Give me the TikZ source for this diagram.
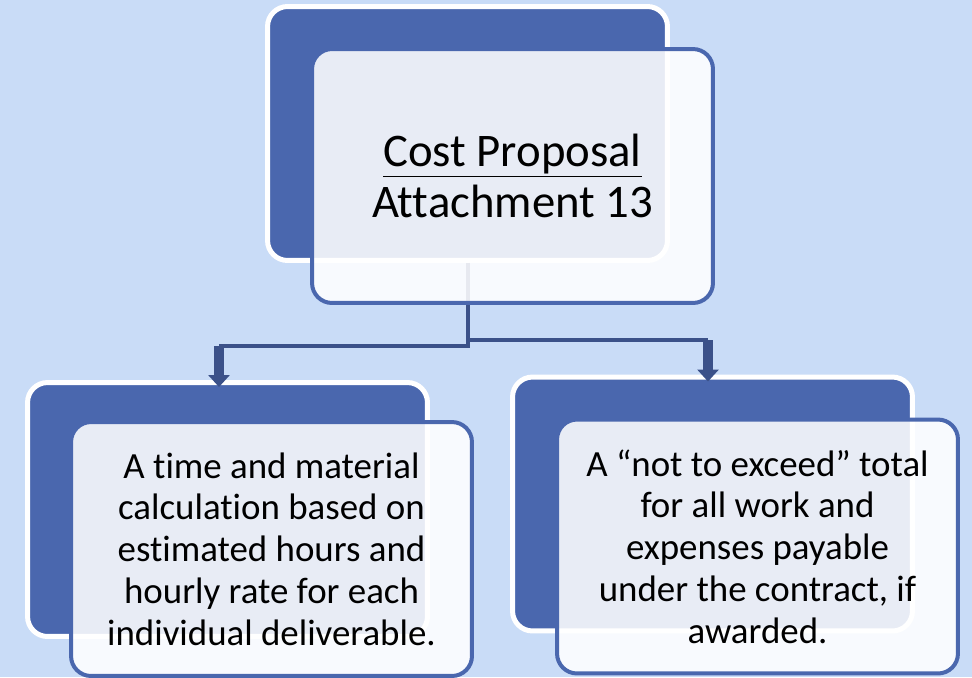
\documentclass[tikz,border=0pt]{standalone}
\usepackage{fontspec}
\setmainfont{Carlito}[Ligatures={NoCommon}]
\usetikzlibrary{calc, arrows.meta}
\definecolor{pagebg}{HTML}{C9DCF7}
\definecolor{boxblue}{HTML}{4A67AE}
\definecolor{linkblue}{HTML}{3B5189}
\tikzset{
    x=0.02cm, y=-0.02cm,
    backbox/.style={rectangle, rounded corners=0.4cm, fill=boxblue, draw=white,
        line width=0.1cm, minimum width=8cm, minimum height=5.08cm},
    frontbox/.style={rectangle, rounded corners=0.4cm, fill=white, fill opacity=0.88,
        text opacity=1, draw=boxblue, draw opacity=1, line width=0.08cm,
        minimum width=8.02cm, minimum height=5.08cm, align=center,
        font=\fontsize{21}{23.8}\selectfont},
    link/.style={draw=linkblue, line width=0.08cm},
    drop/.style={draw=linkblue, line width=0.2cm, shorten >=-0.14cm,
        -{Triangle[width=0.42cm, length=0.24cm]}},
}

\begin{document}
\begin{tikzpicture}
    \fill[pagebg] (0,0) rectangle (972,677);
    \useasboundingbox (0,0) rectangle (972,677);

    % back plates
    \node[backbox] (costback) at (467.5,133.5) {};
    \node[backbox] (tmback) at (227.5,509.5) {};
    \node[backbox] (nteback) at (712.5,504) {};

    % elbow connectors
    \coordinate (kneeL) at (219,346);
    \coordinate (kneeR) at (708,340);
    \draw[link] (costback.south) |- (kneeL);
    \draw[link] (costback.south) |- (kneeR);
    \draw[drop] (kneeL) -- (tmback.north -| kneeL);
    \draw[drop] (kneeR) -- (nteback.north -| kneeR);

    % front cards
    \node[frontbox, font=\fontsize{26.6}{29.5}\selectfont] (costfront)
        at ($(costback)+(45,42.5)$) {\underline{Cost Proposal}\\Attachment 13};
    \node[frontbox] (tmfront) at ($(tmback)+(44,39.5)$)
        {A time and material\\calculation based on\\estimated hours and\\hourly rate for each\\individual deliverable.};
    \node[frontbox] (ntefront) at ($(nteback)+(45,42.5)$)
        {A “not to exceed” total\\for all work and\\expenses payable\\under the contract, if\\awarded.};
\end{tikzpicture}
\end{document}
